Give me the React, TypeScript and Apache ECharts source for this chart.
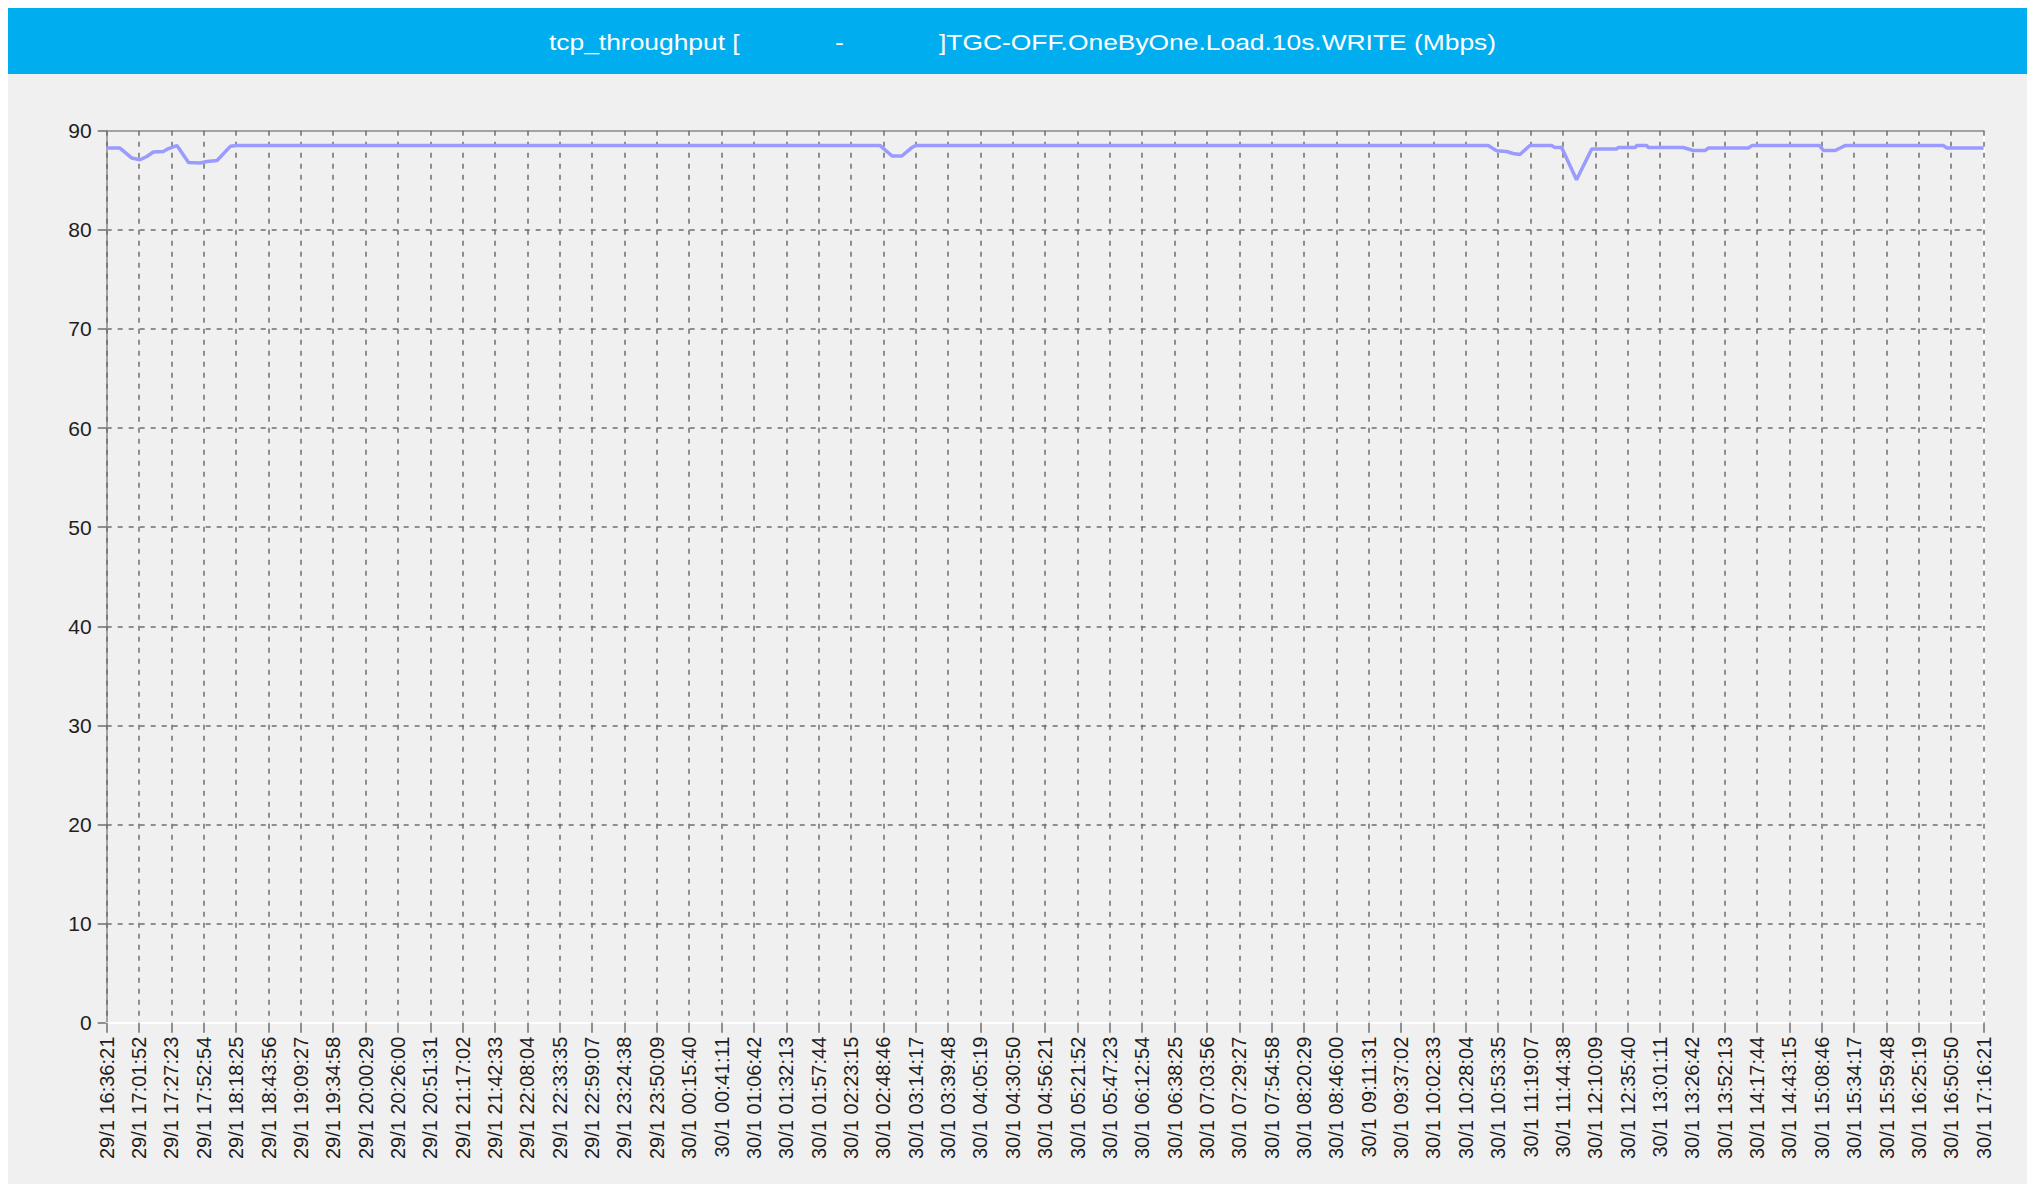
import React, { useEffect, useRef } from "react";
import * as echarts from "echarts";

const TITLE = "tcp_throughput [             -             ]TGC-OFF.OneByOne.Load.10s.WRITE (Mbps)";

const TICK_LABELS = [
  "29/1 16:36:21", "29/1 17:01:52", "29/1 17:27:23", "29/1 17:52:54", "29/1 18:18:25",
  "29/1 18:43:56", "29/1 19:09:27", "29/1 19:34:58", "29/1 20:00:29", "29/1 20:26:00",
  "29/1 20:51:31", "29/1 21:17:02", "29/1 21:42:33", "29/1 22:08:04", "29/1 22:33:35",
  "29/1 22:59:07", "29/1 23:24:38", "29/1 23:50:09", "30/1 00:15:40", "30/1 00:41:11",
  "30/1 01:06:42", "30/1 01:32:13", "30/1 01:57:44", "30/1 02:23:15", "30/1 02:48:46",
  "30/1 03:14:17", "30/1 03:39:48", "30/1 04:05:19", "30/1 04:30:50", "30/1 04:56:21",
  "30/1 05:21:52", "30/1 05:47:23", "30/1 06:12:54", "30/1 06:38:25", "30/1 07:03:56",
  "30/1 07:29:27", "30/1 07:54:58", "30/1 08:20:29", "30/1 08:46:00", "30/1 09:11:31",
  "30/1 09:37:02", "30/1 10:02:33", "30/1 10:28:04", "30/1 10:53:35", "30/1 11:19:07",
  "30/1 11:44:38", "30/1 12:10:09", "30/1 12:35:40", "30/1 13:01:11", "30/1 13:26:42",
  "30/1 13:52:13", "30/1 14:17:44", "30/1 14:43:15", "30/1 15:08:46", "30/1 15:34:17",
  "30/1 15:59:48", "30/1 16:25:19", "30/1 16:50:50", "30/1 17:16:21",
];

// line vertices: position in tick-interval units (0 = first label) and Mbps value
const LINE_X = [
  0, 0.41, 0.77, 1.03, 1.24, 1.44, 1.75, 1.91, 2.17, 2.53, 2.89, 3.1, 3.41, 3.82, 4.02,
  23.9, 24.27, 24.57, 24.88, 25.0,
  42.69, 42.95, 43.26, 43.46, 43.67, 43.98, 44.65, 44.75, 44.96, 45.42, 45.89, 46.66,
  46.71, 47.23, 47.28, 47.59, 47.64, 48.72, 49.03, 49.39, 49.49, 50.73, 50.84, 52.93,
  53.05, 53.41, 53.57, 53.72, 56.76, 56.87, 58,
];
const LINE_Y = [
  88.25, 88.25, 87.25, 87.07, 87.4, 87.85, 87.9, 88.2, 88.5, 86.8, 86.74, 86.9, 87.0, 88.42, 88.5,
  88.5, 87.45, 87.45, 88.3, 88.5,
  88.5, 87.98, 87.9, 87.7, 87.6, 88.5, 88.5, 88.3, 88.3, 85.06, 88.15, 88.15,
  88.3, 88.3, 88.5, 88.5, 88.3, 88.3, 88.0, 88.0, 88.25, 88.25, 88.5, 88.5,
  88.0, 88.0, 88.25, 88.5, 88.5, 88.25, 88.25,
];

const Y_MIN = 0;
const Y_MAX = 90;
const Y_STEP = 10;

export default function App() {
  const ref = useRef<HTMLDivElement>(null);

  useEffect(() => {
    if (!ref.current) return;
    const chart = echarts.init(ref.current, null, { renderer: "svg" });
    const W = 2019;
    const labelFont = "'Liberation Sans', Arial, sans-serif";
    const grid = { left: 98.7, right: 43.4, top: 122.7, bottom: 161.3 };
    const dashed = { color: "#6e6e6e", width: 1.5, type: [5, 6] as any };

    chart.setOption({
      animation: false,
      backgroundColor: "#f0f0f0",
      graphic: [
        {
          type: "rect",
          left: 0,
          top: 0,
          shape: { x: 0, y: 0, width: W, height: 66 },
          style: { fill: "#00aeef" },
          z: -1,
          silent: true,
        },
        {
          type: "text",
          x: 541,
          y: 34,
          scaleX: 1.2,
          scaleY: 1,
          z: 10,
          silent: true,
          style: {
            text: TITLE,
            fill: "#ffffff",
            fontFamily: "'Liberation Sans', Arial, sans-serif",
            fontSize: 22,
            verticalAlign: "middle",
            align: "left",
          },
        },
      ],
      grid,
      xAxis: [
        {
          type: "value",
          position: "bottom",
          min: 0,
          max: TICK_LABELS.length - 1,
          interval: 1,
          axisLine: { show: true, onZero: false, lineStyle: { color: "#ffffff", width: 2 } },
          axisTick: { show: true, length: 10, lineStyle: { color: "#6e6e6e", width: 1.5 } },
          axisLabel: {
            rotate: 90,
            margin: 14,
            fontSize: 20,
            fontFamily: labelFont,
            color: "#1e1e1e",
            showMinLabel: true,
            showMaxLabel: true,
            formatter: (v: number) => TICK_LABELS[Math.round(v)] ?? "",
          },
          splitLine: { show: true, lineStyle: dashed },
          z: 3,
        },
        {
          type: "value",
          position: "top",
          min: 0,
          max: TICK_LABELS.length - 1,
          axisLine: { show: true, onZero: false, lineStyle: { color: "#a3a3a3", width: 2 } },
          axisTick: { show: false },
          axisLabel: { show: false },
          splitLine: { show: false },
        },
      ],
      yAxis: [
        {
          type: "value",
          position: "left",
          min: Y_MIN,
          max: Y_MAX,
          interval: Y_STEP,
          axisLine: { show: true, onZero: false, lineStyle: { color: "#a3a3a3", width: 2 } },
          axisTick: { show: true, length: 9, lineStyle: { color: "#6e6e6e", width: 1.5 } },
          axisLabel: { margin: 15, fontSize: 21, fontFamily: labelFont, color: "#1e1e1e" },
          splitLine: { show: true, lineStyle: dashed },
        },
        {
          type: "value",
          position: "right",
          min: Y_MIN,
          max: Y_MAX,
          axisLine: { show: true, onZero: false, lineStyle: { color: "#ffffff", width: 2 } },
          axisTick: { show: false },
          axisLabel: { show: false },
          splitLine: { show: false },
        },
      ],
      series: [
        {
          type: "line",
          name: "tcp_throughput",
          xAxisIndex: 0,
          yAxisIndex: 0,
          data: LINE_X.map((x, i) => [x, LINE_Y[i]]),
          showSymbol: false,
          symbol: "none",
          lineStyle: { color: "#9a9aff", width: 3.5 },
          itemStyle: { color: "#9a9aff" },
          z: 5,
        },
      ],
    });
    return () => chart.dispose();
  }, []);

  return (
    <div
      ref={ref}
      style={{ position: "fixed", left: 8, top: 8, width: 2019, height: 1176 }}
    />
  );
}
